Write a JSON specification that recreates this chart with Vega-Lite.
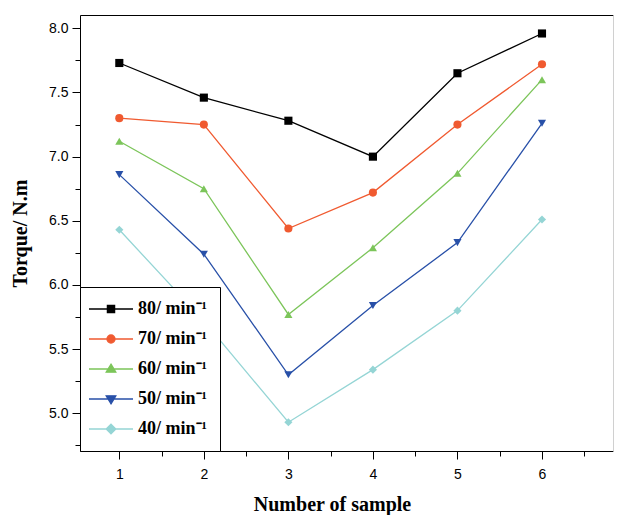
{
  "$schema": "https://vega.github.io/schema/vega-lite/v6.json",
  "width": 533,
  "height": 436,
  "autosize": "none",
  "padding": {"left": 80, "top": 15, "right": 4, "bottom": 64},
  "background": "white",
  "config": {
    "view": {"stroke": null},
    "axis": {
      "grid": false,
      "domainColor": "black",
      "tickColor": "black",
      "labelColor": "black",
      "titleColor": "black",
      "labelFont": "Liberation Sans",
      "labelFontSize": 14,
      "titleFont": "Liberation Serif",
      "titleFontSize": 20,
      "titleFontWeight": "bold"
    },
    "legend": {
      "title": null,
      "orient": "bottom-left",
      "offset": 0,
      "padding": 13,
      "strokeColor": "black",
      "fillColor": "white",
      "symbolSize": 64,
      "symbolOffset": 9,
      "labelOffset": 18,
      "rowPadding": 12,
      "labelFont": "Liberation Serif",
      "labelFontSize": 18,
      "labelFontWeight": "bold",
      "labelColor": "black",
      "symbolStrokeWidth": 1.3
    }
  },
  "data": {
    "values": [
      {"series": "80/ min⁻¹", "sample": 1, "torque": 7.73},
      {"series": "80/ min⁻¹", "sample": 2, "torque": 7.46},
      {"series": "80/ min⁻¹", "sample": 3, "torque": 7.28},
      {"series": "80/ min⁻¹", "sample": 4, "torque": 7.0},
      {"series": "80/ min⁻¹", "sample": 5, "torque": 7.65},
      {"series": "80/ min⁻¹", "sample": 6, "torque": 7.96},
      {"series": "70/ min⁻¹", "sample": 1, "torque": 7.3},
      {"series": "70/ min⁻¹", "sample": 2, "torque": 7.25},
      {"series": "70/ min⁻¹", "sample": 3, "torque": 6.44},
      {"series": "70/ min⁻¹", "sample": 4, "torque": 6.72},
      {"series": "70/ min⁻¹", "sample": 5, "torque": 7.25},
      {"series": "70/ min⁻¹", "sample": 6, "torque": 7.72},
      {"series": "60/ min⁻¹", "sample": 1, "torque": 7.12},
      {"series": "60/ min⁻¹", "sample": 2, "torque": 6.75},
      {"series": "60/ min⁻¹", "sample": 3, "torque": 5.77},
      {"series": "60/ min⁻¹", "sample": 4, "torque": 6.29},
      {"series": "60/ min⁻¹", "sample": 5, "torque": 6.87},
      {"series": "60/ min⁻¹", "sample": 6, "torque": 7.6},
      {"series": "50/ min⁻¹", "sample": 1, "torque": 6.86},
      {"series": "50/ min⁻¹", "sample": 2, "torque": 6.24},
      {"series": "50/ min⁻¹", "sample": 3, "torque": 5.3},
      {"series": "50/ min⁻¹", "sample": 4, "torque": 5.84},
      {"series": "50/ min⁻¹", "sample": 5, "torque": 6.33},
      {"series": "50/ min⁻¹", "sample": 6, "torque": 7.26},
      {"series": "40/ min⁻¹", "sample": 1, "torque": 6.43},
      {"series": "40/ min⁻¹", "sample": 2, "torque": 5.72},
      {"series": "40/ min⁻¹", "sample": 3, "torque": 4.93},
      {"series": "40/ min⁻¹", "sample": 4, "torque": 5.34},
      {"series": "40/ min⁻¹", "sample": 5, "torque": 5.8},
      {"series": "40/ min⁻¹", "sample": 6, "torque": 6.51}
    ]
  },
  "resolve": {
    "scale": {"shape": "independent", "fill": "independent", "stroke": "independent"},
    "axis": {"x": "independent", "y": "independent"}
  },
  "layer": [
    {
      "mark": {"type": "line", "strokeWidth": 1.3},
      "encoding": {
        "x": {
          "field": "sample", "type": "quantitative",
          "scale": {"domain": [0.535, 6.84], "nice": false, "zero": false},
          "axis": {
            "title": "Number of sample",
            "titleX": 252,
            "values": [1, 1.5, 2, 2.5, 3, 3.5, 4, 4.5, 5, 5.5, 6, 6.5],
            "format": ".0f",
            "labelExpr": "datum.value % 1 === 0 ? datum.label : ''",
            "tickSize": {"condition": {"test": "datum.value % 1 === 0", "value": 8}, "value": 5},
            "labelPadding": 8,
            "titlePadding": 13,
            "labelFlush": false
          }
        },
        "y": {
          "field": "torque", "type": "quantitative",
          "scale": {"domain": [4.706, 8.104], "nice": false, "zero": false},
          "axis": {
            "title": "Torque/ N.m",
            "values": [4.75, 5, 5.25, 5.5, 5.75, 6, 6.25, 6.5, 6.75, 7, 7.25, 7.5, 7.75, 8],
            "format": ".1f",
            "labelExpr": "datum.value % 0.5 === 0 ? datum.label : ''",
            "tickSize": {"condition": {"test": "datum.value % 0.5 === 0", "value": 8}, "value": 5},
            "labelPadding": 4,
            "titlePadding": 18,
            "labelFlush": false
          }
        },
        "color": {
          "field": "series", "type": "nominal", "legend": null,
          "scale": {
            "domain": ["80/ min⁻¹", "70/ min⁻¹", "60/ min⁻¹", "50/ min⁻¹", "40/ min⁻¹"],
            "range": ["#000000", "#F05A30", "#7CC55A", "#2850A8", "#95D5D5"]
          }
        },
        "detail": {"field": "series"}
      }
    },
    {
      "mark": {"type": "point", "filled": true, "opacity": 1, "size": 66},
      "encoding": {
        "x": {"field": "sample", "type": "quantitative", "axis": null},
        "y": {"field": "torque", "type": "quantitative", "axis": null},
        "color": {"field": "series", "type": "nominal", "legend": null},
        "shape": {
          "field": "series", "type": "nominal", "legend": null,
          "scale": {
            "domain": ["80/ min⁻¹", "70/ min⁻¹", "60/ min⁻¹", "50/ min⁻¹", "40/ min⁻¹"],
            "range": ["square", "circle", "triangle-up", "triangle-down", "diamond"]
          }
        }
      }
    },
    {
      "transform": [{"filter": "datum.sample > 100"}],
      "mark": {"type": "point", "filled": true, "opacity": 1, "size": 64, "strokeWidth": 1.2},
      "encoding": {
        "x": {"field": "sample", "type": "quantitative",
          "axis": {"orient": "top", "labels": false, "ticks": false, "title": null, "domainColor": "black"}},
        "y": {"field": "torque", "type": "quantitative",
          "axis": {"orient": "right", "labels": false, "ticks": false, "title": null, "domainColor": "#d0d0d0"}},
        "fill": {
          "field": "series", "type": "nominal",
          "scale": {
            "domain": ["80/ min⁻¹", "70/ min⁻¹", "60/ min⁻¹", "50/ min⁻¹", "40/ min⁻¹"],
            "range": ["#000000", "#F05A30", "#7CC55A", "#2850A8", "#95D5D5"]
          },
          "legend": {"orient": "bottom-left"}
        },
        "stroke": {
          "field": "series", "type": "nominal",
          "scale": {
            "domain": ["80/ min⁻¹", "70/ min⁻¹", "60/ min⁻¹", "50/ min⁻¹", "40/ min⁻¹"],
            "range": ["#000000", "#F05A30", "#7CC55A", "#2850A8", "#95D5D5"]
          },
          "legend": {"orient": "bottom-left"}
        },
        "shape": {
          "field": "series", "type": "nominal",
          "scale": {
            "domain": ["80/ min⁻¹", "70/ min⁻¹", "60/ min⁻¹", "50/ min⁻¹", "40/ min⁻¹"],
            "range": [
              "M-5.5,0H5.5M-0.9,-0.9H0.9V0.9H-0.9Z",
              "M-5.5,0H5.5M1,0A1,1,0,1,1,-1,0A1,1,0,1,1,1,0Z",
              "M-5.5,0H5.5M0,-1.2L1.2,0.8H-1.2Z",
              "M-5.5,0H5.5M0,1.2L1.2,-0.8H-1.2Z",
              "M-5.5,0H5.5M0,-1.2L1.2,0L0,1.2L-1.2,0Z"
            ]
          },
          "legend": {"orient": "bottom-left"}
        }
      }
    }
  ]
}
